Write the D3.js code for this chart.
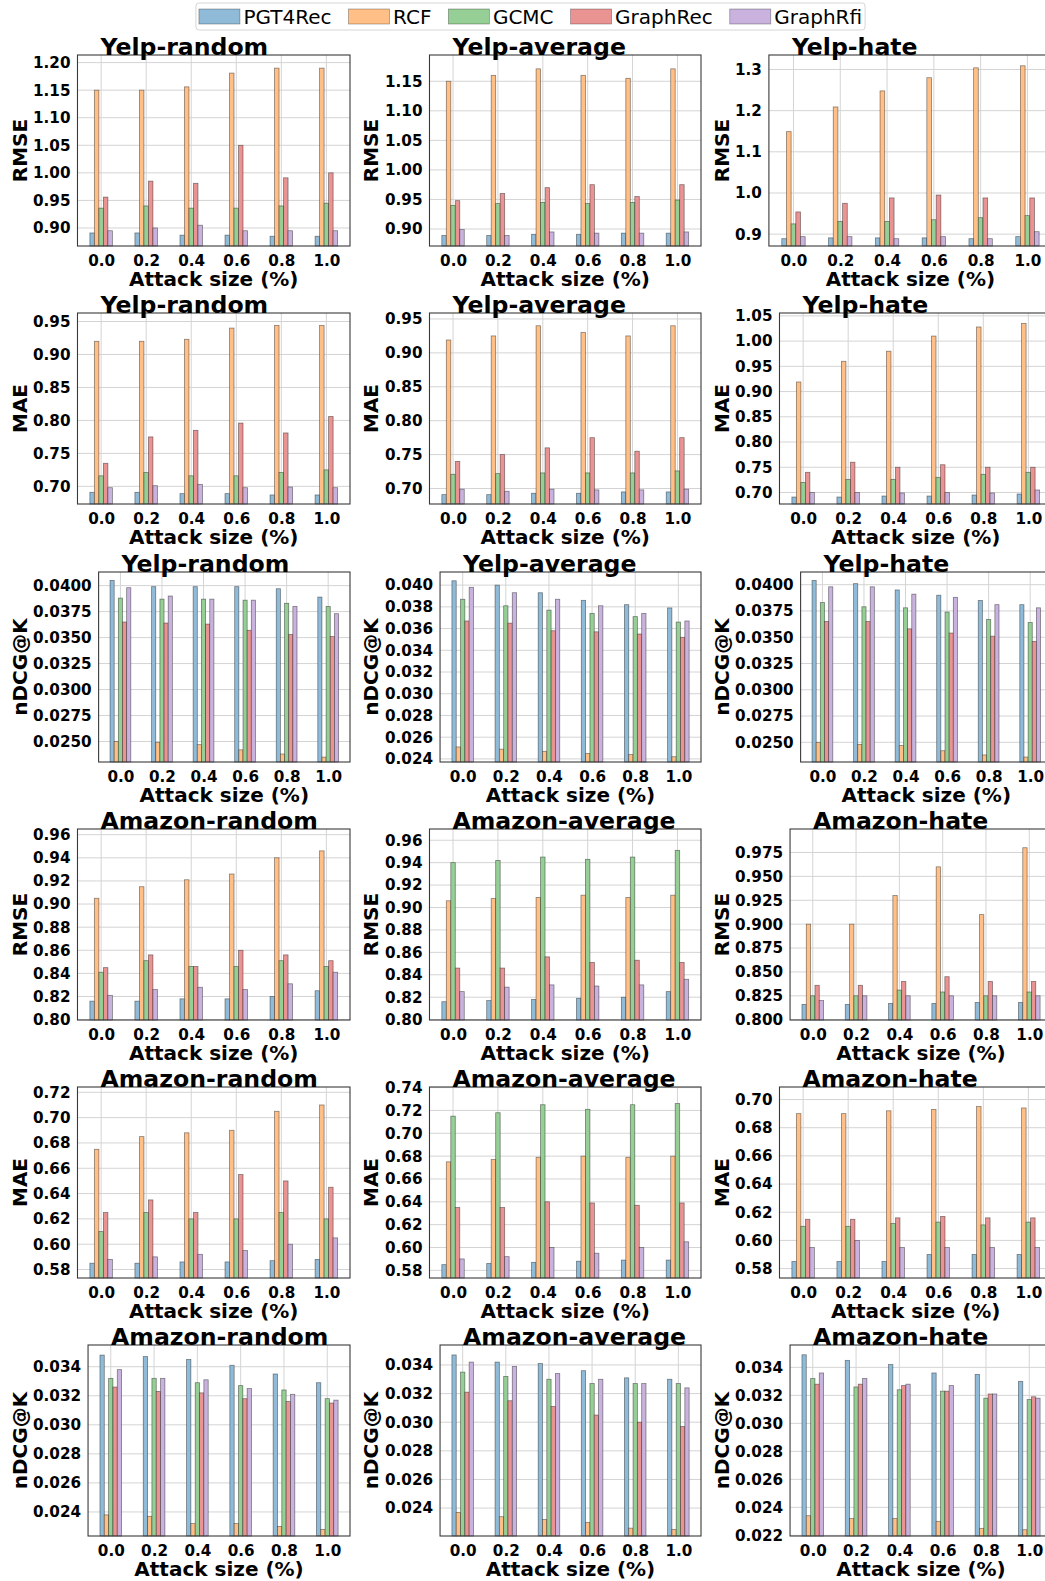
<!DOCTYPE html>
<html>
<head>
<meta charset="utf-8">
<script src="https://cdn.jsdelivr.net/npm/d3@7"></script>
<style>
  body { margin: 0; background: #fff; }
  svg { display: block; font-family: "DejaVu Sans", sans-serif; }
</style>
</head>
<body>
<svg id="chart" width="1045" height="1581"></svg>
<script>
// ---- data ----
var categories = ["0.0", "0.2", "0.4", "0.6", "0.8", "1.0"];
var models = ["PGT4Rec", "RCF", "GCMC", "GraphRec", "GraphRfi"];
var colors = ["#8fbbd9", "#ffbf86", "#95cf95", "#ea9393", "#c9b3de"];

// series order follows `models`
var yelpRandomRMSE = [
  [0.891, 0.891, 0.887, 0.887, 0.885, 0.885],
  [1.150, 1.150, 1.156, 1.181, 1.190, 1.190],
  [0.936, 0.940, 0.936, 0.936, 0.940, 0.945],
  [0.956, 0.985, 0.981, 1.050, 0.991, 1.000],
  [0.895, 0.900, 0.905, 0.895, 0.895, 0.895]];
var yelpAverageRMSE = [
  [0.889, 0.889, 0.891, 0.891, 0.893, 0.893],
  [1.150, 1.160, 1.171, 1.160, 1.155, 1.171],
  [0.940, 0.943, 0.945, 0.943, 0.945, 0.949],
  [0.948, 0.960, 0.970, 0.975, 0.955, 0.975],
  [0.899, 0.889, 0.895, 0.893, 0.893, 0.895]];
var yelpHateRMSE = [
  [0.889, 0.891, 0.891, 0.891, 0.889, 0.894],
  [1.149, 1.209, 1.248, 1.280, 1.304, 1.309],
  [0.925, 0.931, 0.931, 0.935, 0.940, 0.945],
  [0.954, 0.975, 0.988, 0.995, 0.988, 0.988],
  [0.894, 0.894, 0.889, 0.894, 0.889, 0.906]];

var yelpRandomMAE = [
  [0.691, 0.691, 0.689, 0.689, 0.687, 0.687],
  [0.920, 0.920, 0.923, 0.940, 0.944, 0.944],
  [0.716, 0.721, 0.716, 0.716, 0.721, 0.725],
  [0.735, 0.775, 0.785, 0.796, 0.781, 0.806],
  [0.698, 0.701, 0.703, 0.698, 0.699, 0.698]];
var yelpAverageMAE = [
  [0.691, 0.691, 0.693, 0.693, 0.695, 0.695],
  [0.919, 0.925, 0.940, 0.930, 0.925, 0.940],
  [0.721, 0.722, 0.723, 0.723, 0.723, 0.726],
  [0.740, 0.750, 0.760, 0.775, 0.755, 0.775],
  [0.699, 0.696, 0.699, 0.698, 0.698, 0.699]];
var yelpHateMAE = [
  [0.691, 0.691, 0.693, 0.693, 0.695, 0.697],
  [0.919, 0.960, 0.980, 1.010, 1.028, 1.035],
  [0.720, 0.726, 0.726, 0.730, 0.736, 0.740],
  [0.740, 0.760, 0.750, 0.755, 0.750, 0.750],
  [0.700, 0.700, 0.699, 0.700, 0.699, 0.705]];

var yelpRandomNDCG = [
  [0.0405, 0.0399, 0.0399, 0.0399, 0.0397, 0.0389],
  [0.0250, 0.0249, 0.0247, 0.0242, 0.0238, 0.0235],
  [0.0388, 0.0387, 0.0387, 0.0386, 0.0383, 0.0380],
  [0.0365, 0.0364, 0.0363, 0.0357, 0.0353, 0.0351],
  [0.0398, 0.0390, 0.0387, 0.0386, 0.0380, 0.0373]];
var yelpAverageNDCG = [
  [0.0404, 0.0400, 0.0393, 0.0386, 0.0382, 0.0379],
  [0.0251, 0.0249, 0.0247, 0.0245, 0.0244, 0.0242],
  [0.0387, 0.0381, 0.0377, 0.0374, 0.0371, 0.0366],
  [0.0367, 0.0365, 0.0358, 0.0357, 0.0355, 0.0352],
  [0.0398, 0.0393, 0.0387, 0.0381, 0.0374, 0.0367]];
var yelpHateNDCG = [
  [0.0404, 0.0401, 0.0395, 0.0390, 0.0385, 0.0381],
  [0.0250, 0.0248, 0.0247, 0.0242, 0.0238, 0.0236],
  [0.0383, 0.0379, 0.0378, 0.0374, 0.0367, 0.0364],
  [0.0365, 0.0365, 0.0358, 0.0354, 0.0351, 0.0346],
  [0.0398, 0.0398, 0.0391, 0.0388, 0.0381, 0.0378]];

var amazonRandomRMSE = [
  [0.816, 0.816, 0.818, 0.818, 0.820, 0.825],
  [0.905, 0.915, 0.921, 0.926, 0.940, 0.946],
  [0.841, 0.851, 0.846, 0.846, 0.851, 0.846],
  [0.845, 0.856, 0.846, 0.860, 0.856, 0.851],
  [0.821, 0.826, 0.828, 0.826, 0.831, 0.841]];
var amazonAverageRMSE = [
  [0.816, 0.817, 0.818, 0.819, 0.820, 0.825],
  [0.906, 0.908, 0.909, 0.911, 0.909, 0.911],
  [0.940, 0.942, 0.945, 0.943, 0.945, 0.951],
  [0.846, 0.846, 0.856, 0.851, 0.853, 0.851],
  [0.825, 0.829, 0.831, 0.830, 0.831, 0.836]];
var amazonHateRMSE = [
  [0.816, 0.816, 0.817, 0.817, 0.818, 0.818],
  [0.900, 0.900, 0.930, 0.960, 0.910, 0.980],
  [0.825, 0.825, 0.831, 0.829, 0.825, 0.829],
  [0.836, 0.836, 0.840, 0.845, 0.840, 0.840],
  [0.820, 0.825, 0.825, 0.825, 0.825, 0.825]];

var amazonRandomMAE = [
  [0.585, 0.585, 0.586, 0.586, 0.587, 0.588],
  [0.675, 0.685, 0.688, 0.690, 0.705, 0.710],
  [0.610, 0.625, 0.620, 0.620, 0.625, 0.620],
  [0.625, 0.635, 0.625, 0.655, 0.650, 0.645],
  [0.588, 0.590, 0.592, 0.595, 0.600, 0.605]];
var amazonAverageMAE = [
  [0.585, 0.586, 0.587, 0.588, 0.589, 0.589],
  [0.675, 0.677, 0.679, 0.680, 0.679, 0.680],
  [0.715, 0.718, 0.725, 0.721, 0.725, 0.726],
  [0.635, 0.635, 0.640, 0.639, 0.637, 0.639],
  [0.590, 0.592, 0.600, 0.595, 0.600, 0.605]];
var amazonHateMAE = [
  [0.585, 0.585, 0.585, 0.590, 0.590, 0.590],
  [0.690, 0.690, 0.692, 0.693, 0.695, 0.694],
  [0.610, 0.610, 0.612, 0.613, 0.611, 0.613],
  [0.615, 0.615, 0.616, 0.617, 0.616, 0.616],
  [0.595, 0.600, 0.595, 0.595, 0.595, 0.595]];

var amazonRandomNDCG = [
  [0.0348, 0.0347, 0.0345, 0.0341, 0.0335, 0.0329],
  [0.0238, 0.0237, 0.0232, 0.0232, 0.0230, 0.0228],
  [0.0332, 0.0332, 0.0329, 0.0327, 0.0324, 0.0318],
  [0.0326, 0.0323, 0.0322, 0.0318, 0.0316, 0.0315],
  [0.0338, 0.0332, 0.0331, 0.0325, 0.0321, 0.0317]];
var amazonAverageNDCG = [
  [0.0347, 0.0342, 0.0341, 0.0336, 0.0331, 0.0330],
  [0.0237, 0.0234, 0.0232, 0.0230, 0.0226, 0.0225],
  [0.0335, 0.0332, 0.0330, 0.0327, 0.0327, 0.0327],
  [0.0321, 0.0315, 0.0311, 0.0305, 0.0300, 0.0297],
  [0.0342, 0.0339, 0.0334, 0.0330, 0.0327, 0.0324]];
var amazonHateNDCG = [
  [0.0349, 0.0345, 0.0342, 0.0336, 0.0335, 0.0330],
  [0.0234, 0.0232, 0.0232, 0.0230, 0.0225, 0.0224],
  [0.0332, 0.0326, 0.0324, 0.0323, 0.0318, 0.0317],
  [0.0328, 0.0328, 0.0327, 0.0323, 0.0321, 0.0319],
  [0.0336, 0.0332, 0.0328, 0.0327, 0.0321, 0.0318]];

// tick labels
var ticksYR_RMSE = ["0.90", "0.95", "1.00", "1.05", "1.10", "1.15", "1.20"];
var ticksYA_RMSE = ["0.90", "0.95", "1.00", "1.05", "1.10", "1.15"];
var ticksYH_RMSE = ["0.9", "1.0", "1.1", "1.2", "1.3"];
var ticksY_MAE = ["0.70", "0.75", "0.80", "0.85", "0.90", "0.95"];
var ticksYH_MAE = ["0.70", "0.75", "0.80", "0.85", "0.90", "0.95", "1.00", "1.05"];
var ticksY_NDCG4 = ["0.0250", "0.0275", "0.0300", "0.0325", "0.0350", "0.0375", "0.0400"];
var ticksYA_NDCG = ["0.024", "0.026", "0.028", "0.030", "0.032", "0.034", "0.036", "0.038", "0.040"];
var ticksA_RMSE = ["0.80", "0.82", "0.84", "0.86", "0.88", "0.90", "0.92", "0.94", "0.96"];
var ticksAH_RMSE = ["0.800", "0.825", "0.850", "0.875", "0.900", "0.925", "0.950", "0.975"];
var ticksAR_MAE = ["0.58", "0.60", "0.62", "0.64", "0.66", "0.68", "0.70", "0.72"];
var ticksAA_MAE = ["0.58", "0.60", "0.62", "0.64", "0.66", "0.68", "0.70", "0.72", "0.74"];
var ticksAH_MAE = ["0.58", "0.60", "0.62", "0.64", "0.66", "0.68", "0.70"];
var ticksA_NDCG = ["0.024", "0.026", "0.028", "0.030", "0.032", "0.034"];
var ticksAH_NDCG = ["0.022", "0.024", "0.026", "0.028", "0.030", "0.032", "0.034"];

var panels = [
  ["Yelp-random", "RMSE", yelpRandomRMSE, ticksYR_RMSE],
  ["Yelp-average", "RMSE", yelpAverageRMSE, ticksYA_RMSE],
  ["Yelp-hate", "RMSE", yelpHateRMSE, ticksYH_RMSE],
  ["Yelp-random", "MAE", yelpRandomMAE, ticksY_MAE],
  ["Yelp-average", "MAE", yelpAverageMAE, ticksY_MAE],
  ["Yelp-hate", "MAE", yelpHateMAE, ticksYH_MAE],
  ["Yelp-random", "nDCG@K", yelpRandomNDCG, ticksY_NDCG4],
  ["Yelp-average", "nDCG@K", yelpAverageNDCG, ticksYA_NDCG],
  ["Yelp-hate", "nDCG@K", yelpHateNDCG, ticksY_NDCG4],
  ["Amazon-random", "RMSE", amazonRandomRMSE, ticksA_RMSE],
  ["Amazon-average", "RMSE", amazonAverageRMSE, ticksA_RMSE],
  ["Amazon-hate", "RMSE", amazonHateRMSE, ticksAH_RMSE],
  ["Amazon-random", "MAE", amazonRandomMAE, ticksAR_MAE],
  ["Amazon-average", "MAE", amazonAverageMAE, ticksAA_MAE],
  ["Amazon-hate", "MAE", amazonHateMAE, ticksAH_MAE],
  ["Amazon-random", "nDCG@K", amazonRandomNDCG, ticksA_NDCG],
  ["Amazon-average", "nDCG@K", amazonAverageNDCG, ticksA_NDCG],
  ["Amazon-hate", "nDCG@K", amazonHateNDCG, ticksAH_NDCG]
];

// ---- layout ----
var colLabelStart = [33, 385, 735],
    colRight = [350, 701, 1052],
    colYLabelX = [27, 378, 729],
    rowTop = [55, 313, 572, 829, 1087, 1345],
    rowBottom = [246, 504, 762, 1020, 1278, 1536];
var barW = 0.1;

var svg = d3.select("#chart");

// width of the widest tick label, to place the axes like a tight layout
function maxLabelWidth(labels){
  var t = svg.append("text")
    .style("font-size", "15.2px").style("font-weight", "bold");
  var w = d3.max(labels, function(s){ t.text(s); return t.node().getComputedTextLength(); });
  t.remove();
  return w;
}

panels.forEach(function(p, k){
  var row = Math.floor(k / 3), col = k % 3;
  var title = p[0], ylab = p[1], series = p[2], ticks = p[3];
  var top = rowTop[row], bottom = rowBottom[row];
  var left = colLabelStart[col] + maxLabelWidth(ticks) + 7,
      right = colRight[col];

  var all = d3.merge(series);
  var x = d3.scaleLinear().domain([-0.525, 5.525]).range([left, right]);
  var y = d3.scaleLinear()
    .domain([d3.min(all) * 0.98, d3.max(all) * 1.02])
    .range([bottom, top]);

  var g = svg.append("g");

  // grid
  g.selectAll("line.gy").data(ticks).enter().append("line")
    .attr("x1", left).attr("x2", right)
    .attr("y1", function(d){ return y(+d); })
    .attr("y2", function(d){ return y(+d); })
    .attr("stroke", "#d4d4d4").attr("stroke-width", 1);
  g.selectAll("line.gx").data(categories).enter().append("line")
    .attr("y1", top).attr("y2", bottom)
    .attr("x1", function(d, i){ return x(i); })
    .attr("x2", function(d, i){ return x(i); })
    .attr("stroke", "#d4d4d4").attr("stroke-width", 1);

  // bars
  series.forEach(function(vals, j){
    g.selectAll("rect.s" + j).data(vals).enter().append("rect")
      .attr("x", function(d, i){ return x(i + (j - 2) * barW - barW / 2); })
      .attr("width", x(barW) - x(0))
      .attr("y", function(d){ return y(d); })
      .attr("height", function(d){ return bottom - y(d); })
      .attr("fill", colors[j])
      .attr("stroke", "rgba(0,0,0,0.45)")
      .attr("stroke-width", 0.8);
  });

  // frame
  g.append("rect")
    .attr("x", left).attr("y", top)
    .attr("width", right - left).attr("height", bottom - top)
    .attr("fill", "none").attr("stroke", "#3a3a3a").attr("stroke-width", 1.1);

  // axes
  var ya = g.append("g").attr("transform", "translate(" + left + ",0)")
    .call(d3.axisLeft(y).tickValues(ticks.map(Number))
      .tickFormat(function(d, i){ return ticks[i]; })
      .tickSize(0).tickPadding(7));
  var xa = g.append("g").attr("transform", "translate(0," + bottom + ")")
    .call(d3.axisBottom(x).tickValues(d3.range(categories.length))
      .tickFormat(function(d){ return categories[d]; })
      .tickSize(0).tickPadding(9));
  [ya, xa].forEach(function(a){
    a.select(".domain").remove();
    a.selectAll("text")
      .attr("fill", "#000")
      .style("font-size", "15.2px").style("font-weight", "bold")
      .style("font-family", "'DejaVu Sans', sans-serif");
  });

  // labels
  g.append("text")
    .attr("x", left + 23).attr("y", top - 0.5)
    .style("font-size", "23.6px").style("font-weight", "bold")
    .text(title);
  g.append("text")
    .attr("transform", "translate(" + colYLabelX[col] + "," + ((top + bottom) / 2) + ") rotate(-90)")
    .attr("text-anchor", "middle")
    .style("font-size", "20px").style("font-weight", "bold")
    .text(ylab);
  g.append("text")
    .attr("x", (left + right) / 2).attr("y", bottom + 40)
    .attr("text-anchor", "middle")
    .style("font-size", "20px").style("font-weight", "bold")
    .text("Attack size (%)");
});

// ---- legend ----
var lg = svg.append("g");
var patchW = 41, patchH = 15, textGap = 3.5, colGap = 17, legFont = 20;
var widths = models.map(function(m){
  var t = lg.append("text").style("font-size", legFont + "px").text(m);
  var w = t.node().getComputedTextLength();
  t.remove();
  return w;
});
var total = d3.sum(widths) + models.length * (patchW + textGap) + (models.length - 1) * colGap;
var lx = 530.5 - total / 2;
lg.append("rect")
  .attr("x", lx - 3).attr("y", 3)
  .attr("width", total + 6).attr("height", 27)
  .attr("rx", 3)
  .attr("fill", "#fff").attr("stroke", "#d6d6d6").attr("stroke-width", 1);
models.forEach(function(m, i){
  lg.append("rect")
    .attr("x", lx).attr("y", 9)
    .attr("width", patchW).attr("height", patchH)
    .attr("fill", colors[i])
    .attr("stroke", "rgba(0,0,0,0.35)").attr("stroke-width", 0.8);
  lg.append("text")
    .attr("x", lx + patchW + textGap).attr("y", 23.5)
    .style("font-size", legFont + "px")
    .text(m);
  lx += patchW + textGap + widths[i] + colGap;
});
</script>
</body>
</html>
